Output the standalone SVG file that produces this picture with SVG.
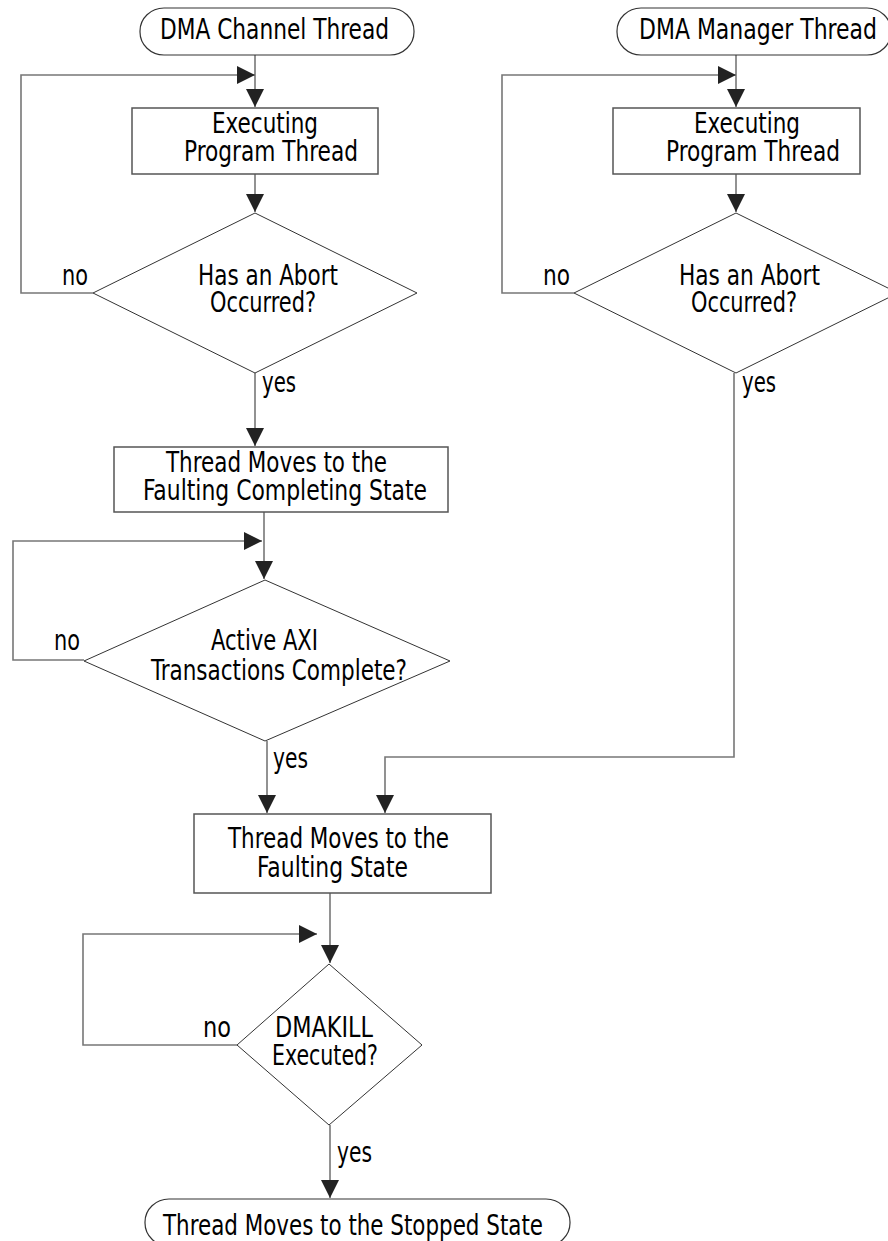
<svg xmlns="http://www.w3.org/2000/svg" width="888" height="1241" viewBox="0 0 888 1241">
<style>
.t{font-family:"Liberation Sans Narrow","DejaVu Sans Condensed","Liberation Sans",sans-serif;font-stretch:condensed;font-size:28px;fill:#000;text-anchor:middle}
.l{font-family:"Liberation Sans Narrow","DejaVu Sans Condensed","Liberation Sans",sans-serif;font-stretch:condensed;font-size:28px;fill:#000}
.term{fill:#fff;stroke:#333;stroke-width:1.2}
.box{fill:#fff;stroke:#555;stroke-width:1.5}
.dia{fill:#fff;stroke:#333;stroke-width:1}
.c{fill:none;stroke:#777;stroke-width:1.6}
</style>
<defs>
<marker id="ah" markerUnits="userSpaceOnUse" markerWidth="18" markerHeight="18" viewBox="0 0 18 18" refX="18" refY="9" orient="auto">
<path d="M0,0 L18,9 L0,18 z" fill="#222"/>
</marker>
</defs>
<rect width="888" height="1241" fill="#fff"/>
<g id="connectors">
<path class="c" d="M255,55 V107" marker-end="url(#ah)"/>
<path class="c" d="M93,293 H21 V75 H255" marker-end="url(#ah)"/>
<path class="c" d="M255,174 V212" marker-end="url(#ah)"/>
<path class="c" d="M255,373 V446" marker-end="url(#ah)"/>
<path class="c" d="M264,512 V579" marker-end="url(#ah)"/>
<path class="c" d="M84,660 H13 V541 H262" marker-end="url(#ah)"/>
<path class="c" d="M267,741 V813" marker-end="url(#ah)"/>
<path class="c" d="M734,373 V757 H385 V813" marker-end="url(#ah)"/>
<path class="c" d="M330,893 V963" marker-end="url(#ah)"/>
<path class="c" d="M237,1045 H83 V934 H317" marker-end="url(#ah)"/>
<path class="c" d="M330,1125 V1198" marker-end="url(#ah)"/>
<path class="c" d="M736,55 V107" marker-end="url(#ah)"/>
<path class="c" d="M574,293 H502 V75 H736" marker-end="url(#ah)"/>
<path class="c" d="M736,174 V212" marker-end="url(#ah)"/>
<text class="l" x="62" y="285" textLength="26" lengthAdjust="spacingAndGlyphs">no</text>
<text class="l" x="262" y="392" textLength="34" lengthAdjust="spacingAndGlyphs">yes</text>
<text class="l" x="543" y="285" textLength="27" lengthAdjust="spacingAndGlyphs">no</text>
<text class="l" x="742" y="392" textLength="34" lengthAdjust="spacingAndGlyphs">yes</text>
<text class="l" x="54" y="650" textLength="26" lengthAdjust="spacingAndGlyphs">no</text>
<text class="l" x="273" y="768" textLength="35" lengthAdjust="spacingAndGlyphs">yes</text>
<text class="l" x="203" y="1037" textLength="28" lengthAdjust="spacingAndGlyphs">no</text>
<text class="l" x="337" y="1162" textLength="35" lengthAdjust="spacingAndGlyphs">yes</text>
</g>
<g id="start-channel">
<rect class="term" x="140" y="8" width="274" height="47" rx="24" ry="23"/>
<text class="t" x="274.5" y="39" textLength="229" lengthAdjust="spacingAndGlyphs">DMA Channel Thread</text>
</g>
<g id="start-manager">
<rect class="term" x="617" y="8" width="274" height="47" rx="24" ry="23"/>
<text class="t" x="758" y="39" textLength="238" lengthAdjust="spacingAndGlyphs">DMA Manager Thread</text>
</g>
<g id="exec-channel">
<rect class="box" x="132" y="108" width="246" height="66"/>
<text class="t" x="265" y="133" textLength="106" lengthAdjust="spacingAndGlyphs">Executing</text>
<text class="t" x="271" y="161" textLength="174" lengthAdjust="spacingAndGlyphs">Program Thread</text>
</g>
<g id="exec-manager">
<rect class="box" x="613" y="108" width="247" height="66"/>
<text class="t" x="747" y="133" textLength="106" lengthAdjust="spacingAndGlyphs">Executing</text>
<text class="t" x="753" y="161" textLength="174" lengthAdjust="spacingAndGlyphs">Program Thread</text>
</g>
<g id="abort-channel">
<polygon class="dia" points="255,213 417,293 255,373 93,293"/>
<text class="t" x="268" y="285" textLength="140" lengthAdjust="spacingAndGlyphs">Has an Abort</text>
<text class="t" x="263" y="312" textLength="106" lengthAdjust="spacingAndGlyphs">Occurred?</text>
</g>
<g id="abort-manager">
<polygon class="dia" points="736,213 898,293 736,373 574,293"/>
<text class="t" x="749.5" y="285" textLength="141" lengthAdjust="spacingAndGlyphs">Has an Abort</text>
<text class="t" x="744" y="312" textLength="106" lengthAdjust="spacingAndGlyphs">Occurred?</text>
</g>
<g id="faulting-completing">
<rect class="box" x="114" y="447" width="334" height="65"/>
<text class="t" x="276.5" y="472" textLength="221" lengthAdjust="spacingAndGlyphs">Thread Moves to the</text>
<text class="t" x="285" y="500" textLength="284" lengthAdjust="spacingAndGlyphs">Faulting Completing State</text>
</g>
<g id="axi-complete">
<polygon class="dia" points="265,580 450,661 265,741 84,661"/>
<text class="t" x="264.5" y="650" textLength="107" lengthAdjust="spacingAndGlyphs">Active AXI</text>
<text class="t" x="279" y="680" textLength="256" lengthAdjust="spacingAndGlyphs">Transactions Complete?</text>
</g>
<g id="faulting">
<rect class="box" x="194" y="814" width="297" height="79"/>
<text class="t" x="338.5" y="848" textLength="221" lengthAdjust="spacingAndGlyphs">Thread Moves to the</text>
<text class="t" x="332.5" y="877" textLength="151" lengthAdjust="spacingAndGlyphs">Faulting State</text>
</g>
<g id="dmakill">
<polygon class="dia" points="329,964 422,1045 329,1125 237,1045"/>
<text class="t" x="324" y="1037" textLength="98" lengthAdjust="spacingAndGlyphs">DMAKILL</text>
<text class="t" x="325" y="1065" textLength="106" lengthAdjust="spacingAndGlyphs">Executed?</text>
</g>
<g id="stopped">
<rect class="term" x="145" y="1199" width="425" height="47" rx="24" ry="23"/>
<text class="t" x="353" y="1235" textLength="380" lengthAdjust="spacingAndGlyphs">Thread Moves to the Stopped State</text>
</g>
</svg>
